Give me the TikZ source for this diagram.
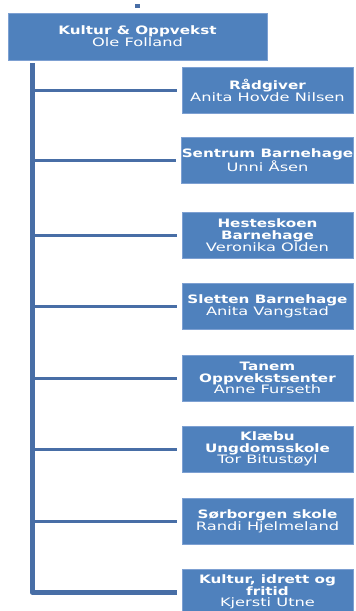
\documentclass[tikz,border=0pt]{standalone}
\usepackage{fontspec}
\setmainfont{DejaVu Sans}[FakeStretch=1.4, BoldFeatures={FakeStretch=1.31}]
\definecolor{boxblue}{RGB}{79,129,189}
\definecolor{lineblue}{RGB}{72,110,166}
\begin{document}
\begin{tikzpicture}[x=1pt,y=-1pt,
    unitbox/.style={fill=boxblue, draw={rgb,255:red,125;green,160;blue,210}, line width=0.6pt,
      text=white, align=center, inner sep=0pt, minimum width=171pt, minimum height=46pt,
      font=\fontsize{11.6}{11.7}\selectfont},
    headbox/.style={unitbox, minimum width=259pt, minimum height=47pt},
    trunk/.style={draw=lineblue, line width=5pt, line join=round},
    branch/.style={draw=lineblue, line width=3pt}]
  \useasboundingbox (0,0) rectangle (356,611);
  % leader
  \node[headbox] (head) at (137.5,36.5) {\textbf{Kultur \& Oppvekst}\\Ole Folland};
  \coordinate (stub) at (137.5,4); \draw[trunk] (stub) -- ++(0,4);
  % units
  \node[unitbox] (u1) at (267.5,90.5) {\textbf{Rådgiver}\\Anita Hovde Nilsen};
  \node[unitbox] (u2) at (267.5,160) {\textbf{Sentrum Barnehage}\\Unni Åsen};
  \node[unitbox] (u3) at (267.5,235) {\textbf{Hesteskoen}\\\textbf{Barnehage}\\Veronika Olden};
  \node[unitbox] (u4) at (267.5,306) {\textbf{Sletten Barnehage}\\Anita Vangstad};
  \node[unitbox] (u5) at (267.5,378) {\textbf{Tanem}\\\textbf{Oppvekstsenter}\\Anne Furseth};
  \node[unitbox] (u6) at (267.5,449) {\textbf{Klæbu}\\\textbf{Ungdomsskole}\\Tor Bitustøyl};
  \node[unitbox] (u7) at (267.5,521) {\textbf{Sørborgen skole}\\Randi Hjelmeland};
  \node[unitbox] (u8) at (267.5,592) {\textbf{Kultur, idrett og}\\\textbf{fritid}\\Kjersti Utne};
  % connectors
  \coordinate (top) at (32,63);
  \draw[trunk] (top) |- ([xshift=-5pt]u8.west);
  \foreach \u in {u1,u2,u3,u4,u5,u6,u7}
    \draw[branch] (top |- \u.west) -- ([xshift=-5pt]\u.west);
\end{tikzpicture}
\end{document}
